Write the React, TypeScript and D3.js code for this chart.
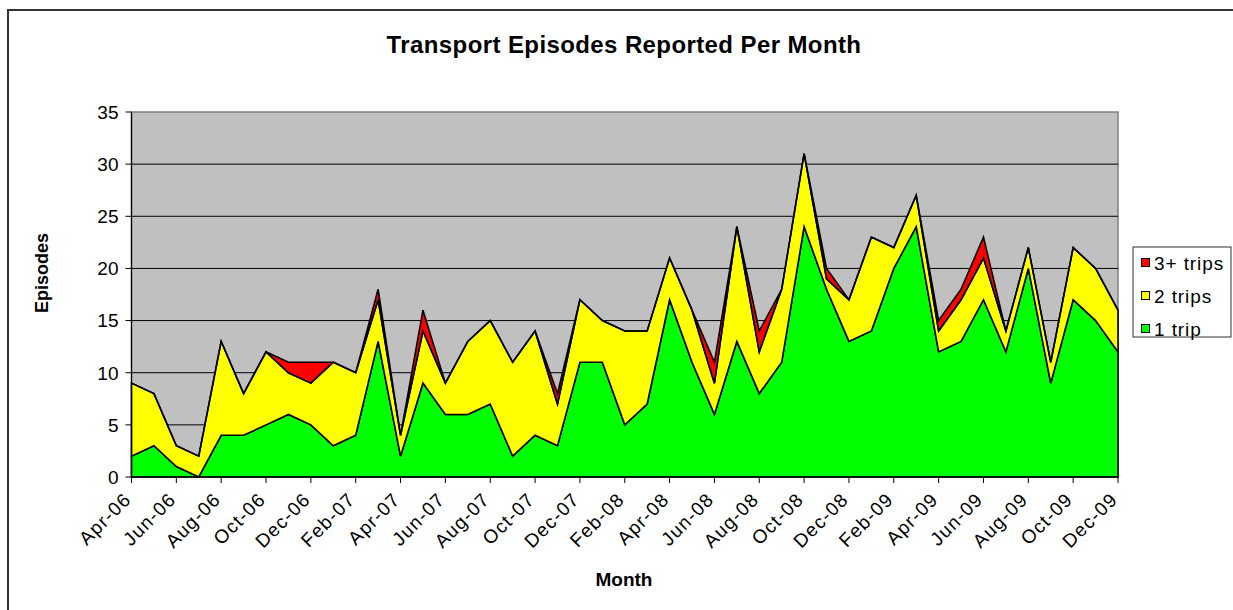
import React from "react";
import * as d3 from "d3";

const months = [
  "Apr-06","May-06","Jun-06","Jul-06","Aug-06","Sep-06","Oct-06","Nov-06","Dec-06",
  "Jan-07","Feb-07","Mar-07","Apr-07","May-07","Jun-07","Jul-07","Aug-07","Sep-07","Oct-07","Nov-07","Dec-07",
  "Jan-08","Feb-08","Mar-08","Apr-08","May-08","Jun-08","Jul-08","Aug-08","Sep-08","Oct-08","Nov-08","Dec-08",
  "Jan-09","Feb-09","Mar-09","Apr-09","May-09","Jun-09","Jul-09","Aug-09","Sep-09","Oct-09","Nov-09","Dec-09",
];

const oneTrip = [2,3,1,0,4,4,5,6,5,3,4,13,2,9,6,6,7,2,4,3,11,11,5,7,17,11,6,13,8,11,24,18,13,14,20,24,12,13,17,12,20,9,17,15,12];
const twoTrips = [7,5,2,2,9,4,7,4,4,8,6,4,2,5,3,7,8,9,10,4,6,4,9,7,4,5,3,11,4,7,7,1,4,9,2,3,2,4,4,2,2,2,5,5,4];
const threePlus = [0,0,0,0,0,0,0,1,2,0,0,1,0,2,0,0,0,0,0,1,0,0,0,0,0,0,2,0,2,0,0,1,0,0,0,0,1,1,2,0,0,0,0,0,0];

const seriesNames = ["1 trip", "2 trips", "3+ trips"];
const seriesColors = ["#00FF00", "#FFFF00", "#FF0000"];
const yTicks = [0, 5, 10, 15, 20, 25, 30, 35];

const W = 1233;
const H = 610;
const plot = { left: 131.5, top: 112, right: 1118, bottom: 477 };
const FONT = "'Liberation Sans', Arial, sans-serif";

export default function App() {
  const x = d3.scalePoint<string>().domain(months).range([plot.left, plot.right]);
  const y = d3.scaleLinear().domain([0, 35]).range([plot.bottom, plot.top]);

  const rows = months.map((m, i) => ({
    month: m,
    "1 trip": oneTrip[i],
    "2 trips": twoTrips[i],
    "3+ trips": threePlus[i],
  }));
  const stacked = d3.stack<any>().keys(seriesNames)(rows);
  const area = d3
    .area<any>()
    .x((d) => x(d.data.month) as number)
    .y0((d) => y(d[0]))
    .y1((d) => y(d[1]));

  const tickMonths = months.filter((_, i) => i % 2 === 0);

  return (
    <svg
      width={W}
      height={H}
      style={{ position: "absolute", left: 0, top: 0, background: "#fff" }}
      fontFamily={FONT}
    >
      <rect x={8} y={10} width={1400} height={800} fill="#fff" stroke="#333" strokeWidth={2} />
      <text x={624} y={53} textAnchor="middle" fontSize={24} fontWeight="bold" letterSpacing={0.4}>
        Transport Episodes Reported Per Month
      </text>

      <rect
        x={plot.left}
        y={plot.top}
        width={plot.right - plot.left}
        height={plot.bottom - plot.top}
        fill="#C0C0C0"
        stroke="#808080"
        strokeWidth={1.5}
      />
      {yTicks.slice(1, -1).map((t) => (
        <line key={t} x1={plot.left} x2={plot.right} y1={y(t)} y2={y(t)} stroke="#000" strokeWidth={1} />
      ))}

      {stacked.map((s, i) => (
        <path
          key={s.key}
          d={area(s) as string}
          fill={seriesColors[i]}
          stroke="#000"
          strokeWidth={1.6}
          strokeLinejoin="miter"
        />
      ))}

      {/* axes */}
      <line x1={plot.left} x2={plot.left} y1={plot.top} y2={plot.bottom} stroke="#000" strokeWidth={1.2} />
      <line x1={plot.left} x2={plot.right} y1={plot.bottom} y2={plot.bottom} stroke="#000" strokeWidth={1.2} />
      {yTicks.map((t) => (
        <g key={t}>
          <line x1={plot.left - 6} x2={plot.left} y1={y(t)} y2={y(t)} stroke="#000" strokeWidth={1} />
          <text x={plot.left - 13} y={y(t)} dy="0.36em" textAnchor="end" fontSize={19}>
            {t}
          </text>
        </g>
      ))}
      {tickMonths.map((m) => {
        const px = x(m) as number;
        return (
          <g key={m}>
            <line x1={px} x2={px} y1={plot.bottom} y2={plot.bottom + 6} stroke="#000" strokeWidth={1} />
            <text
              transform={`translate(${px - 4},${plot.bottom + 19}) rotate(-45)`}
              textAnchor="end"
              fontSize={19}
              letterSpacing={1.2}
              dy="0.35em"
            >
              {m}
            </text>
          </g>
        );
      })}

      <text x={624} y={586} textAnchor="middle" fontSize={19} fontWeight="bold">
        Month
      </text>
      <text
        transform={`translate(48,273) rotate(-90)`}
        textAnchor="middle"
        fontSize={18}
        fontWeight="bold"
      >
        Episodes
      </text>

      {/* legend */}
      <rect x={1133} y={247} width={98} height={90} fill="#fff" stroke="#333" strokeWidth={1} />
      {[2, 1, 0].map((si, row) => {
        const cy = 263 + row * 33;
        return (
          <g key={si}>
            <rect x={1141.5} y={cy - 4.5} width={8} height={8} fill={seriesColors[si]} stroke="#000" strokeWidth={1} />
            <text x={1154} y={cy} dy="0.36em" fontSize={19} letterSpacing={0.9}>
              {seriesNames[si]}
            </text>
          </g>
        );
      })}
    </svg>
  );
}
